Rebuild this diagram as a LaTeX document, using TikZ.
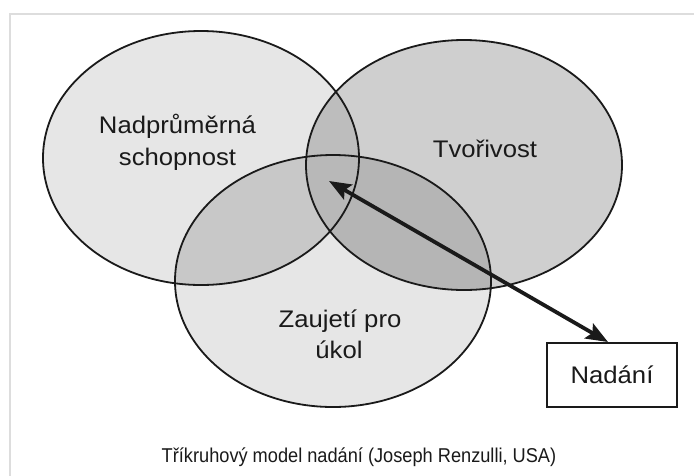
\documentclass[tikz,border=0pt]{standalone}
\usepackage{fontspec}
\setmainfont{Liberation Sans}
\newfontfamily\lblfont[FakeStretch=1.07]{Liberation Sans}
\newfontfamily\capfont[FakeStretch=0.91]{Liberation Sans}
\usetikzlibrary{arrows.meta}
\definecolor{lite}{HTML}{E6E6E6}
\definecolor{midg}{HTML}{CFCFCF}
\definecolor{ovLB}{HTML}{C8C8C8}
\definecolor{ovLR}{HTML}{BDBDBD}
\definecolor{ovRB}{HTML}{B5B5B5}
\definecolor{ovAll}{HTML}{B8B8B8}
\definecolor{framegray}{HTML}{DDDDDD}
\definecolor{ink}{HTML}{1A1A1A}
\newcommand\ellL{(201,158) ellipse [x radius=158pt, y radius=127pt]}
\newcommand\ellR{(464,165) ellipse [x radius=158pt, y radius=125pt]}
\newcommand\ellB{(333,281) ellipse [x radius=158pt, y radius=126pt]}
\tikzset{
  lbl/.style={font=\lblfont\fontsize{24}{28}\selectfont, text=ink, inner sep=0pt},
  outline/.style={draw=ink, line width=1.8pt},
  arrowline/.style={draw=ink, line width=3.8pt},
  boxstyle/.style={draw=ink, line width=2pt, minimum width=130pt, minimum height=64pt, inner sep=0pt, fill=white, font=\lblfont\fontsize{24}{28}\selectfont, text=ink}
}
\begin{document}
\begin{tikzpicture}[x=1pt,y=-1pt]
\useasboundingbox (0,0) rectangle (694,475);
\fill[white] (0,0) rectangle (694,475);
\draw[framegray, line width=2pt] (10,14) rectangle (720,500);
% base fills
\fill[lite] \ellL;
\fill[midg] \ellR;
\fill[lite] \ellB;
% pairwise overlaps
\begin{scope}\clip \ellL; \fill[ovLB] \ellB; \end{scope}
\begin{scope}\clip \ellL; \fill[ovLR] \ellR; \end{scope}
\begin{scope}\clip \ellR; \fill[ovRB] \ellB; \end{scope}
\begin{scope}\clip \ellL; \clip \ellR; \fill[ovAll] \ellB; \end{scope}
% outlines
\draw[outline] \ellL;
\draw[outline] \ellR;
\draw[outline] \ellB;
% labels
\node[lbl, anchor=base] (n1) at (177.5,133) {Nadprůměrná};
\node[lbl, anchor=base] (n2) at (177.5,165) {schopnost};
\node[lbl, anchor=base] (tv) at (485,157) {Tvořivost};
\node[lbl, anchor=base] (z1) at (340,327) {Zaujetí pro};
\node[lbl, anchor=base] (z2) at (339,358) {úkol};
\node[boxstyle] (box) at (612,375) {Nadání};
\coordinate (core) at (329,181);
\draw[arrowline, {Stealth[length=22pt, width=17pt, inset=4pt]}-{Stealth[length=22pt, width=17pt, inset=4pt]}] (core) -- ([xshift=-4pt]box.north);
\node[anchor=base, inner sep=0pt, text=ink] (cap) at (359,462) {\capfont\fontsize{20}{24}\selectfont Tříkruhový model nadání (Joseph Renzulli, USA)};
\end{tikzpicture}
\end{document}
